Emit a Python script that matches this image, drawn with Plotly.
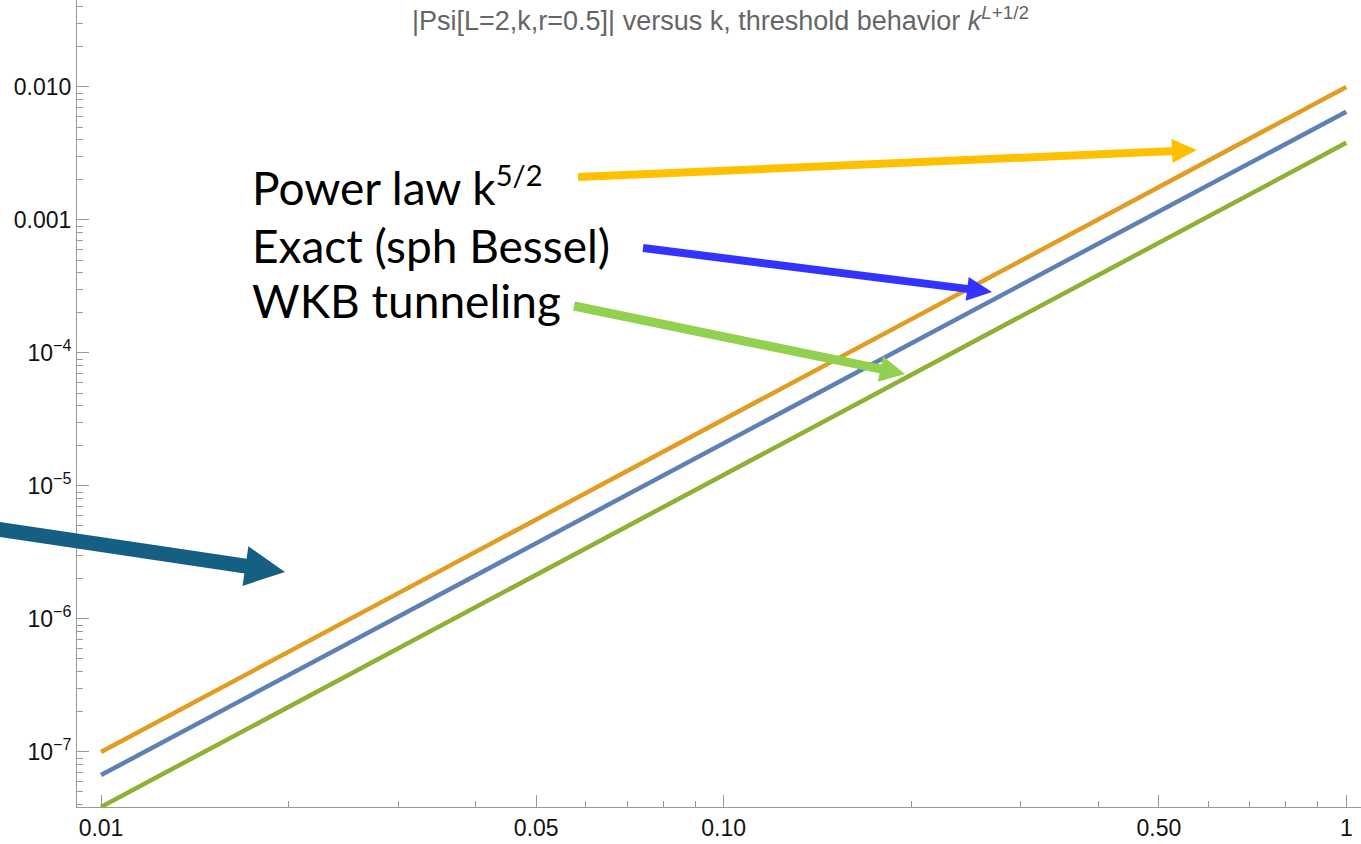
import numpy as np
import plotly.graph_objects as go

# ---- data ----
k_vals = [0.01, 0.02, 0.05, 0.1, 0.2, 0.5, 1.0]
power_law = [1.0e-7, 5.66e-7, 5.59e-6, 3.16e-5, 1.79e-4, 1.77e-3, 1.0e-2]
exact_bessel = [6.7e-8, 3.79e-7, 3.74e-6, 2.11e-5, 1.19e-4, 1.16e-3, 6.5e-3]
wkb = [3.86e-8, 2.18e-7, 2.15e-6, 1.22e-5, 6.9e-5, 6.8e-4, 3.8e-3]

x_major = [0.01, 0.05, 0.1, 0.5, 1.0]
x_major_text = ["0.01", "0.05", "0.10", "0.50", "1"]
x_minor = [0.02, 0.03, 0.04, 0.06, 0.07, 0.08, 0.09, 0.2, 0.3, 0.4, 0.6, 0.7, 0.8, 0.9]

y_major = [1e-2, 1e-3, 1e-4, 1e-5, 1e-6, 1e-7]
y_major_text = ["0.010", "0.001", "10<sup>\u22124</sup>", "10<sup>\u22125</sup>",
                "10<sup>\u22126</sup>", "10<sup>\u22127</sup>"]
y_minor = [m * 10.0 ** e for e in range(-8, -1) for m in range(2, 10)]

labels = ["Power law k<sup><span style=\"font-size:29px\">5/2</span></sup>",
          "Exact (sph Bessel)", "WKB tunneling"]

W, H = 1361, 844
L_M, R_M, T_M, B_M = 77, 0, 0, 37
PW, PH = W - L_M - R_M, H - T_M - B_M

def px(x):
    return (x - L_M) / PW

def py(y):
    return (H - B_M - y) / PH

fig = go.Figure()
fig.add_trace(go.Scatter(x=k_vals, y=power_law, mode="lines",
                         line=dict(color="#E19C24", width=4.5), name="power"))
fig.add_trace(go.Scatter(x=k_vals, y=exact_bessel, mode="lines",
                         line=dict(color="#5E81B5", width=4.5), name="exact"))
fig.add_trace(go.Scatter(x=k_vals, y=wkb, mode="lines",
                         line=dict(color="#8FB032", width=4.5), name="wkb"))

axis_common = dict(type="log", showgrid=False, zeroline=False, showline=True,
                   linecolor="#999999", linewidth=1, ticks="inside",
                   tickcolor="#999999", tickwidth=1, ticklen=12,
                   tickfont=dict(family="Liberation Sans, Arial", size=23, color="#111111"))

fig.update_xaxes(range=[np.log10(0.00915), np.log10(1.056)], tickmode="array",
                 tickvals=x_major, ticktext=x_major_text,
                 minor=dict(tickmode="array", tickvals=x_minor, ticks="inside",
                            ticklen=6, tickcolor="#999999", tickwidth=1),
                 **axis_common)
fig.update_yaxes(range=[-7.414, -1.346], tickmode="array",
                 tickvals=y_major, ticktext=y_major_text,
                 minor=dict(tickmode="array", tickvals=y_minor, ticks="inside",
                            ticklen=6, tickcolor="#999999", tickwidth=1),
                 **axis_common)

# ---- overlay arrows (slide callouts), in pixel positions mapped to paper ----
def arrow(x0, y0, x1, y1, color, width, head_len, head_w):
    d = np.array([x1 - x0, y1 - y0], dtype=float)
    u = d / np.linalg.norm(d)
    n = np.array([-u[1], u[0]])
    base = np.array([x1, y1]) - head_len * u
    c1 = base + n * head_w / 2
    c2 = base - n * head_w / 2
    fig.add_shape(type="line", xref="paper", yref="paper",
                  x0=px(x0), y0=py(y0), x1=px(base[0] + u[0] * 2), y1=py(base[1] + u[1] * 2),
                  line=dict(color=color, width=width), layer="above")
    path = "M {:.5f},{:.5f} L {:.5f},{:.5f} L {:.5f},{:.5f} Z".format(
        px(x1), py(y1), px(c1[0]), py(c1[1]), px(c2[0]), py(c2[1]))
    fig.add_shape(type="path", xref="paper", yref="paper", path=path,
                  fillcolor=color, line=dict(color=color, width=0), layer="above")

arrow(578, 177, 1197, 150, "#FFC000", 8, 25, 24)
arrow(643, 248, 992, 292, "#3333FF", 8, 25, 24)
arrow(574, 306, 905, 374, "#92D050", 9, 25, 26)
arrow(-10, 528, 285, 572, "#156082", 15, 40, 40)

label_y = [186, 245, 300]
for txt, yy in zip(labels, label_y):
    fig.add_annotation(text=txt, xref="paper", yref="paper", x=px(250), y=py(yy),
                       xanchor="left", yanchor="middle", showarrow=False,
                       font=dict(family="Lato", size=46, color="#000000"))

fig.add_annotation(text="|Psi[L=2,k,r=0.5]| versus k, threshold behavior <i>k</i><sup><i>L</i>+1/2</sup>",
                   xref="paper", yref="paper", x=px(721), y=py(19),
                   xanchor="center", yanchor="middle", showarrow=False,
                   font=dict(family="Liberation Sans, Arial", size=27, color="#666666"))

fig.update_layout(width=W, height=H, showlegend=False,
                  margin=dict(l=L_M, r=R_M, t=T_M, b=B_M, pad=0),
                  plot_bgcolor="white", paper_bgcolor="white")

fig.write_html("out.html", config={"displayModeBar": False},
               post_script="document.body.style.margin='0';document.body.style.overflow='hidden';")
